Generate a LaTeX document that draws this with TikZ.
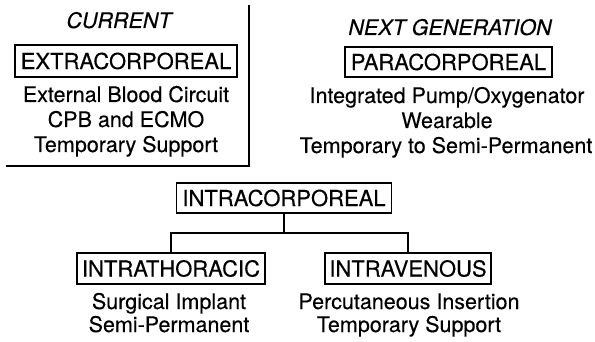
\documentclass[tikz,border=0pt]{standalone}
\usepackage{fontspec}
\setmainfont{TeX Gyre Heros}[UprightFeatures={FakeBold=0.3},ItalicFeatures={FakeBold=0.3}]
\begin{document}
\begin{tikzpicture}[x=1pt,y=-1pt,
  every node/.style={font=\fontsize{21.5}{25}\selectfont, inner sep=0pt},
  box/.style={draw, line width=1.7pt, minimum height=31pt, align=center, font=\fontsize{22}{25}\selectfont},
  txt/.style={anchor=base},
  head/.style={anchor=base, font=\fontsize{21.5}{25}\selectfont\itshape},
  conn/.style={line width=1.7pt}]
\useasboundingbox (0,0) rectangle (595,342);
% left panel frame
\draw[conn] (6,166) -- (249,166) -- (249,5);
% left column
\node[head] (cur) at (119,28) {CURRENT};
\node[box, minimum width=222pt, minimum height=32pt] (extra) at (126,61) {EXTRACORPOREAL};
\node[txt] (e1) at (126,102) {External Blood Circuit};
\node[txt] (e2) at (126,127) {CPB and ECMO};
\node[txt] (e3) at (126,152) {Temporary Support};
% right column
\node[head] (next) at (450,35) {NEXT GENERATION};
\node[box, minimum width=207pt, minimum height=30pt] (para) at (448.5,62) {PARACORPOREAL};
\node[txt] (p1) at (447,103) {Integrated Pump/Oxygenator};
\node[txt] (p2) at (447,128) {Wearable};
\node[txt] (p3) at (446,153) {Temporary to Semi-Permanent};
% bottom tree
\node[box, minimum width=215pt, minimum height=30pt] (intra) at (284,198) {INTRACORPOREAL};
\node[box, minimum width=188pt, minimum height=31pt] (thor) at (171,268.5) {INTRATHORACIC};
\node[box, minimum width=166pt, minimum height=31pt] (veno) at (408,268.5) {INTRAVENOUS};
\coordinate (split) at (284,233);
\draw[conn] (intra.south) -- (split);
\draw[conn] (thor.north) |- (split) -| (veno.north);
\node[txt] (t1) at (169,309) {Surgical Implant};
\node[txt] (t2) at (169,332) {Semi-Permanent};
\node[txt] (v1) at (409,309) {Percutaneous Insertion};
\node[txt] (v2) at (409,332) {Temporary Support};
\end{tikzpicture}
\end{document}
